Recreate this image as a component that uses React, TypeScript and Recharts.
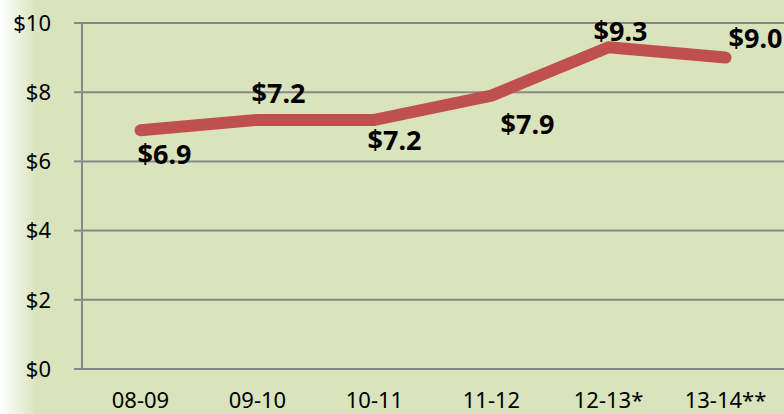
import { LineChart, Line, XAxis, YAxis, CartesianGrid, LabelList } from 'recharts';

const categories = ['08-09', '09-10', '10-11', '11-12', '12-13*', '13-14**'];
const values = [6.9, 7.2, 7.2, 7.9, 9.3, 9.0];
const yTicks = [0, 2, 4, 6, 8, 10];

// label nudges (px) relative to each point, as placed in the original
const labelOffsets = [
  [24, 23],
  [21, -27],
  [20, 20],
  [36, 28],
  [12, -17],
  [30, -20],
];

const chartData = values.map((v, i) => ({ x: i + 0.5, value: v }));
const boundaries = categories.map((_, i) => i).concat(categories.length);
const centers = categories.map((_, i) => i + 0.5);

const gridColor = '#888888';
const fontFamily = '"Noto Sans", sans-serif';

const DataLabel = (props: any) => {
  const { x, y, value, index } = props;
  const [dx, dy] = labelOffsets[index] || [0, 0];
  return (
    <text
      x={x + dx}
      y={y + dy}
      textAnchor="middle"
      dominantBaseline="central"
      fontFamily={fontFamily}
      fontWeight="bold"
      fontSize={27}
      fill="#000"
    >
      ${Number(value).toFixed(1)}
    </text>
  );
};

export default function App() {
  return (
    <div
      style={{
        position: 'absolute',
        left: 0,
        top: 0,
        width: 784,
        height: 414,
        background: 'linear-gradient(to right, #ffffff 0px, #d9e4bd 36px)',
        overflow: 'hidden',
      }}
    >
      <LineChart width={784} height={414} data={chartData} margin={{ top: 23, right: 0, left: 0, bottom: 0 }}>
        <CartesianGrid vertical={false} stroke={gridColor} strokeWidth={2} />
        <XAxis
          xAxisId="b"
          dataKey="x"
          type="number"
          domain={[0, categories.length]}
          ticks={boundaries}
          tick={false}
          tickSize={8}
          tickLine={{ stroke: gridColor, strokeWidth: 2 }}
          axisLine={{ stroke: gridColor, strokeWidth: 2 }}
          height={0}
        />
        <XAxis
          xAxisId="c"
          dataKey="x"
          type="number"
          domain={[0, categories.length]}
          ticks={centers}
          tickFormatter={(v: number) => categories[Math.round(v - 0.5)]}
          tick={{ fontSize: 22, fill: '#000', fontFamily }}
          tickLine={false}
          axisLine={false}
          tickMargin={17}
          height={45}
        />
        <YAxis
          domain={[0, 10]}
          ticks={yTicks}
          tickFormatter={(v: number) => `$${v}`}
          tick={{ fontSize: 22, fill: '#000', fontFamily }}
          tickSize={8}
          tickMargin={23}
          tickLine={{ stroke: gridColor, strokeWidth: 2 }}
          axisLine={{ stroke: gridColor, strokeWidth: 2 }}
          width={82}
        />
        <Line
          xAxisId="b"
          type="linear"
          dataKey="value"
          stroke="#c0504d"
          strokeWidth={12}
          strokeLinecap="round"
          strokeLinejoin="round"
          dot={false}
          activeDot={false}
          isAnimationActive={false}
        >
          <LabelList dataKey="value" content={DataLabel} />
        </Line>
      </LineChart>
    </div>
  );
}
